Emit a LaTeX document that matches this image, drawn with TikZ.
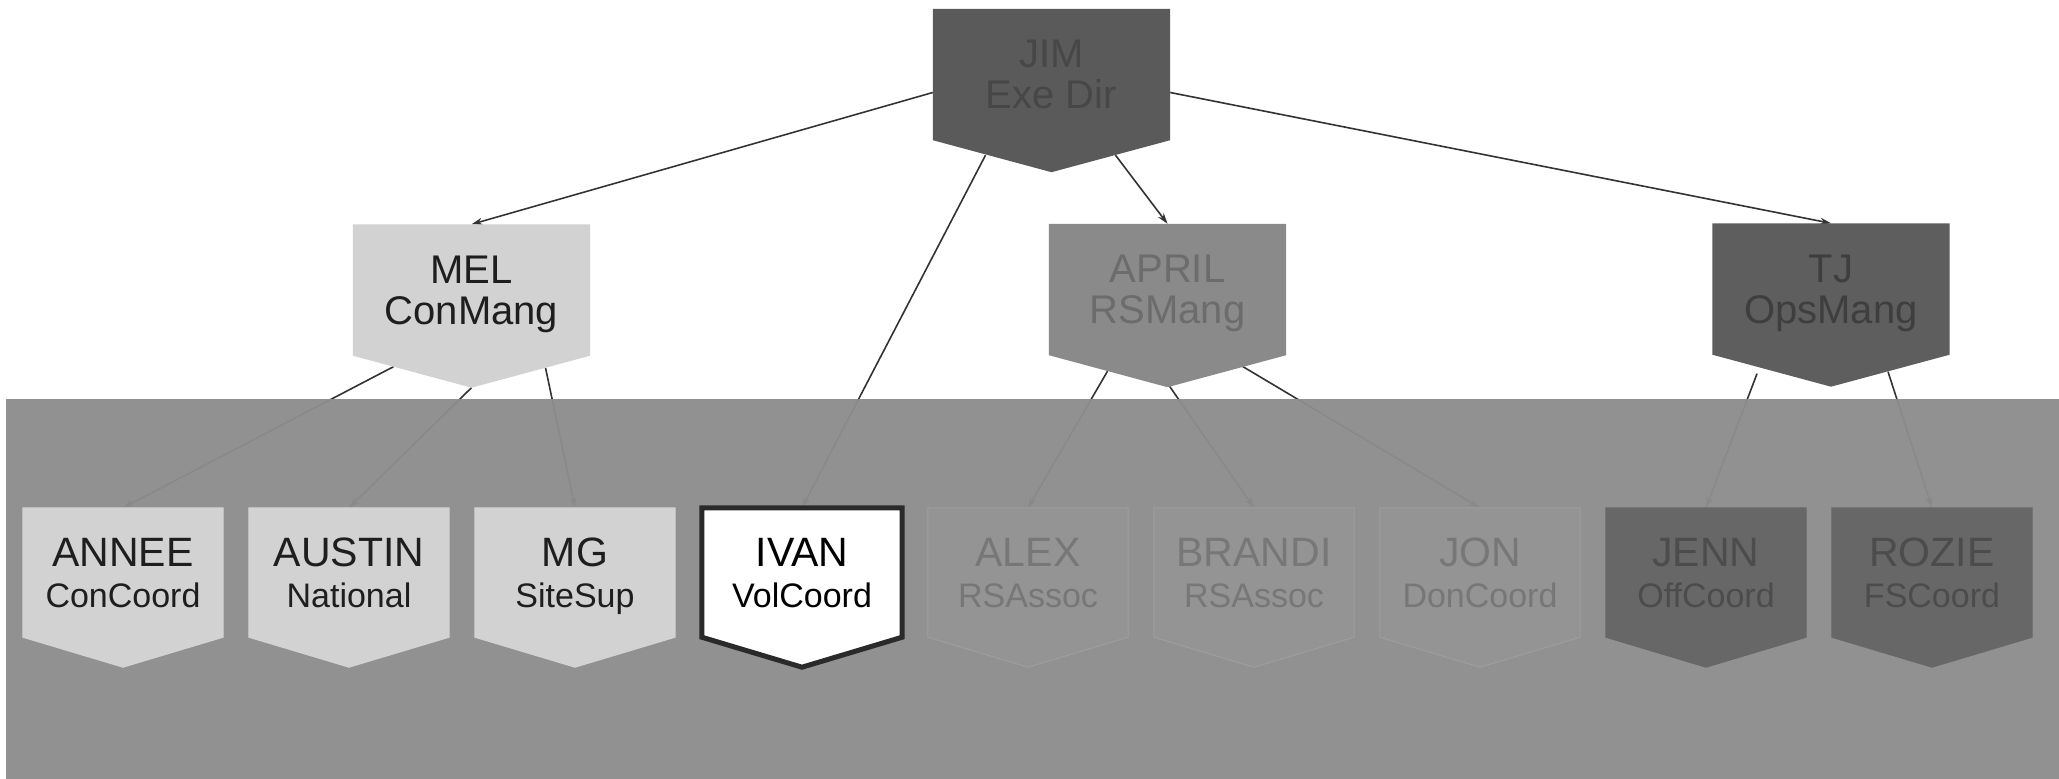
\documentclass[tikz,border=0pt]{standalone}
\usepackage{fontspec}
\setmainfont{Liberation Sans}
\usetikzlibrary{calc,arrows.meta}
\pgfdeclarelayer{lines}\pgfdeclarelayer{band}\pgfdeclarelayer{shapes}
\pgfsetlayers{lines,band,shapes,main}
\definecolor{linkc}{HTML}{333333}
\definecolor{jimfill}{HTML}{5A5A5A}\definecolor{jimtext}{HTML}{474747}
\definecolor{melfill}{HTML}{D2D2D2}\definecolor{meltext}{HTML}{1E1E1E}
\definecolor{aprfill}{HTML}{8A8A8A}\definecolor{aprtext}{HTML}{6C6C6C}
\definecolor{tjfill}{HTML}{5E5E5E}\definecolor{tjtext}{HTML}{3E3E3E}
\definecolor{bandc}{HTML}{8D8D8D}
\definecolor{rsfill}{HTML}{949494}\definecolor{rstext}{HTML}{777777}\definecolor{rsline}{HTML}{9E9E9E}
\definecolor{opsfill}{HTML}{676767}\definecolor{opstext}{HTML}{4C4C4C}
\definecolor{ivanline}{HTML}{2A2A2A}
\newcommand\namesize{\fontsize{41}{41}\selectfont}
\newcommand\nodepth[1]{\raisebox{0pt}[\height][0pt]{#1}}
\begin{document}
\begin{tikzpicture}[x=1pt,y=-1pt,
  topbox/.style={inner sep=0pt,minimum width=237pt,minimum height=131pt,align=center,
    font=\fontsize{40}{41}\selectfont},
  lowbox/.style={inner sep=0pt,minimum width=200pt,minimum height=129pt,align=center,
    font=\fontsize{34}{41}\selectfont},
  link/.style={draw=linkc,line width=1.6pt,-{Stealth[length=11pt,width=7pt]}},
]
\useasboundingbox (0,0) rectangle (2059,779);

% top level
\node[topbox,text=jimtext] (jim) at (1051.5,74.5) {JIM\\\nodepth{Exe Dir}};
% managers
\node[topbox,text=meltext] (mel) at (471.5,290) {MEL\\\nodepth{ConMang}};
\node[topbox,text=aprtext] (april) at (1167.5,289.5) {APRIL\\\nodepth{RSMang}};
\node[topbox,text=tjtext] (tj) at (1831,289) {TJ\\\nodepth{OpsMang}};
% staff
\node[lowbox,text=meltext] (annee) at (123,572.5) {{\namesize ANNEE}\\\nodepth{ConCoord}};
\node[lowbox,text=meltext] (austin) at (349,572.5) {{\namesize AUSTIN}\\\nodepth{National}};
\node[lowbox,text=meltext] (mg) at (575,572.5) {{\namesize MG}\\\nodepth{SiteSup}};
\node[lowbox,text=black] (ivan) at (802,572.5) {{\namesize IVAN}\\\nodepth{VolCoord}};
\node[lowbox,text=rstext] (alex) at (1028,572.5) {{\namesize ALEX}\\\nodepth{RSAssoc}};
\node[lowbox,text=rstext] (brandi) at (1254,572.5) {{\namesize BRANDI}\\\nodepth{RSAssoc}};
\node[lowbox,text=rstext] (jon) at (1480,572.5) {{\namesize JON}\\\nodepth{DonCoord}};
\node[lowbox,text=opstext] (jenn) at (1706,572.5) {{\namesize JENN}\\\nodepth{OffCoord}};
\node[lowbox,text=opstext] (rozie) at (1932,572.5) {{\namesize ROZIE}\\\nodepth{FSCoord}};

% shapes
\begin{pgfonlayer}{shapes}
\foreach \n/\d/\c in {jim/32/jimfill,mel/32/melfill,april/32/aprfill,tj/32/tjfill}
  \fill[\c] (\n.north west) -- (\n.north east) -- (\n.south east)
    -- ($(\n.south)+(0,\d)$) -- (\n.south west) -- cycle;
\foreach \n/\c/\l in {annee/melfill/melfill,austin/melfill/melfill,mg/melfill/melfill,
    alex/rsfill/rsline,brandi/rsfill/rsline,jon/rsfill/rsline,
    jenn/opsfill/opsfill,rozie/opsfill/opsfill}
  \filldraw[fill=\c,draw=\l,line width=1pt] (\n.north west) -- (\n.north east) -- (\n.south east)
    -- ($(\n.south)+(0,30)$) -- (\n.south west) -- cycle;
\filldraw[fill=white,draw=ivanline,line width=5pt,line join=miter]
  (ivan.north west) -- (ivan.north east) -- (ivan.south east)
    -- ($(ivan.south)+(0,30)$) -- (ivan.south west) -- cycle;
\end{pgfonlayer}

% band
\begin{pgfonlayer}{band}
\fill[bandc,opacity=0.96] (6,399) rectangle (2059,779);
\end{pgfonlayer}

% connectors
\begin{pgfonlayer}{lines}
\draw[link] ($(jim.west)+(0,18)$) -- (mel.north);
\draw[link] ($(jim.east)+(0,18)$) -- (tj.north);
\draw[link] ($(jim.south)+(64,15)$) -- (april.north);
\draw[link] ($(jim.south)+(-66,15)$) -- (ivan.north);
\draw[link] ($(mel.south)+(-78,11)$) -- (annee.north);
\draw[link] ($(mel.south)+(0,32)$) -- (austin.north);
\draw[link] ($(mel.south)+(74,12)$) -- (mg.north);
\draw[link] ($(april.south)+(-60,16)$) -- (alex.north);
\draw[link] ($(april.south)+(2,31)$) -- (brandi.north);
\draw[link] ($(april.south)+(73,10)$) -- (jon.north);
\draw[link] ($(tj.south)+(-74,19)$) -- (jenn.north);
\draw[link] ($(tj.south)+(57,17)$) -- (rozie.north);
\end{pgfonlayer}
\end{tikzpicture}
\end{document}
